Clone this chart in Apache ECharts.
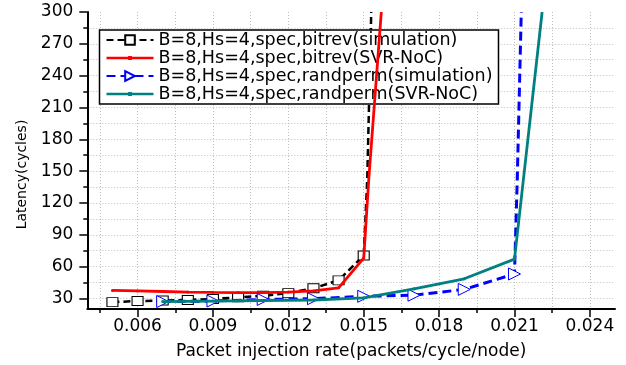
<!DOCTYPE html>
<html>
<head>
<meta charset="utf-8">
<script src="https://cdn.jsdelivr.net/npm/echarts@6/dist/echarts.min.js"></script>
<style>
html,body{margin:0;padding:0;background:#fff;}
#chart{width:626px;height:365px;}
</style>
</head>
<body>
<div id="chart"></div>
<script>
// ---- data ----
const xTicks = [0.006, 0.009, 0.012, 0.015, 0.018, 0.021, 0.024];
const xGrid = [0.0045, 0.006, 0.0075, 0.009, 0.0105, 0.012, 0.0135, 0.015, 0.0165, 0.018, 0.0195, 0.021, 0.0225, 0.024];
const yTicks = [30, 60, 90, 120, 150, 180, 210, 240, 270, 300];
const yGrid = [30, 45, 60, 75, 90, 105, 120, 135, 150, 165, 180, 195, 210, 225, 240, 255, 270, 285];

const seriesNames = [
  'B=8,Hs=4,spec,bitrev(simulation)',
  'B=8,Hs=4,spec,bitrev(SVR-NoC)',
  'B=8,Hs=4,spec,randperm(simulation)',
  'B=8,Hs=4,spec,randperm(SVR-NoC)'
];

// bitrev simulation (black dashed, squares); last 2 points are the off-scale rise (no marker)
const bitrevSimX = [0.005, 0.006, 0.007, 0.008, 0.009, 0.010, 0.011, 0.012, 0.013, 0.014, 0.015, 0.01514, 0.0153];
const bitrevSimY = [26.5, 27.5, 28, 28.5, 29.5, 31, 32.5, 35, 39.5, 47, 70.5, 142, 300];
const bitrevSimMarked = 11;

// bitrev SVR-NoC (red solid)
const bitrevSvrX = [0.005, 0.006, 0.007, 0.008, 0.009, 0.010, 0.011, 0.012, 0.013, 0.014, 0.015, 0.0152, 0.0157];
const bitrevSvrY = [37.5, 37, 36.5, 36, 35.7, 35.5, 35.5, 36, 37, 40, 68, 142, 300];
const bitrevSvrMarked = 11;

// randperm simulation (blue dashed, triangles)
const randSimX = [0.007, 0.009, 0.011, 0.013, 0.015, 0.017, 0.019, 0.021, 0.02111, 0.02127];
const randSimY = [27, 27.5, 29, 29.7, 32, 33, 38.5, 53, 142, 300];
const randSimMarked = 8;

// randperm SVR-NoC (teal solid)
const randSvrX = [0.007, 0.009, 0.011, 0.013, 0.015, 0.017, 0.019, 0.021, 0.0221];
const randSvrY = [27, 27.5, 28, 28.5, 30.5, 39, 48.5, 67, 300];
const randSvrMarked = 8;

function pts(xs, ys, marked) {
  return xs.map((x, i) => i < marked ? [x, ys[i]] : { value: [x, ys[i]], symbol: 'none' });
}

const FONT = 'DejaVu Sans';
const dotIcon = 'path://M0,5 L47,5 L47,7.6 L0,7.6 Z M21.6,4.3 L25.4,4.3 L25.4,8.3 L21.6,8.3 Z';

const chart = echarts.init(document.getElementById('chart'), null, { renderer: 'canvas' });
chart.setOption({
  animation: false,
  backgroundColor: '#fff',
  grid: { left: 87.3, right: 11, top: 12, bottom: 55.7, containLabel: false },
  legend: {
    orient: 'vertical',
    left: 99.5,
    top: 30,
    backgroundColor: '#fff',
    borderColor: '#000',
    borderWidth: 1.5,
    borderRadius: 0,
    padding: [1, 6, 1, 6],
    itemGap: 0,
    itemWidth: 47,
    itemHeight: 12,
    textStyle: { fontFamily: FONT, fontSize: 17.5, color: '#000', lineHeight: 17, padding: [0, 0, 0, 0] },
    data: [
      { name: seriesNames[0] },
      { name: seriesNames[1], icon: dotIcon },
      { name: seriesNames[2] },
      { name: seriesNames[3], icon: dotIcon }
    ]
  },
  xAxis: [
    {
      type: 'value', min: 0.004, max: 0.025, position: 'bottom',
      name: 'Packet injection rate(packets/cycle/node)',
      nameLocation: 'middle', nameGap: 34,
      nameTextStyle: { fontFamily: FONT, fontSize: 17, color: '#000' },
      axisLine: { show: true, onZero: false, lineStyle: { color: '#000', width: 2 } },
      axisTick: { show: true, inside: false, length: 8, customValues: xTicks, lineStyle: { color: '#000', width: 1.5 } },
      axisLabel: { show: true, customValues: xTicks, margin: 9, fontFamily: FONT, fontSize: 17, color: '#000' },
      splitLine: { show: false }
    },
    {
      type: 'value', min: 0.004, max: 0.025, position: 'bottom',
      axisLine: { show: false },
      axisTick: { show: true, inside: false, length: 4, customValues: xGrid, lineStyle: { color: '#000', width: 1.5 } },
      axisLabel: { show: false, customValues: xGrid },
      splitLine: { show: true, lineStyle: { color: '#bdbdbd', width: 1, type: [1, 2] } }
    }
  ],
  yAxis: [
    {
      type: 'value', min: 20, max: 300, position: 'left',
      name: 'Latency(cycles)',
      nameLocation: 'middle', nameGap: 58,
      nameTextStyle: { fontFamily: FONT, fontSize: 14, color: '#000', padding: [0, 28, 0, 0] },
      axisLine: { show: true, onZero: false, lineStyle: { color: '#000', width: 2 } },
      axisTick: { show: true, inside: false, length: 8, customValues: yTicks, lineStyle: { color: '#000', width: 1.5 } },
      axisLabel: { show: true, customValues: yTicks, margin: 14, fontFamily: FONT, fontSize: 17, color: '#000' },
      splitLine: { show: false }
    },
    {
      type: 'value', min: 20, max: 300, position: 'left',
      axisLine: { show: false },
      axisTick: { show: true, inside: false, length: 4, customValues: yGrid, lineStyle: { color: '#000', width: 1.5 } },
      axisLabel: { show: false, customValues: yGrid },
      splitLine: { show: true, lineStyle: { color: '#bdbdbd', width: 1, type: [1, 2] } }
    }
  ],
  series: [
    {
      name: seriesNames[0], type: 'line', xAxisIndex: 0, yAxisIndex: 0,
      data: pts(bitrevSimX, bitrevSimY, bitrevSimMarked),
      symbol: 'rect', symbolSize: [11, 9],
      lineStyle: { color: '#000', width: 2.5, type: [7, 4] },
      itemStyle: { color: '#fff', borderColor: '#000', borderWidth: 1 },
      z: 3
    },
    {
      name: seriesNames[1], type: 'line', xAxisIndex: 0, yAxisIndex: 0,
      data: pts(bitrevSvrX, bitrevSvrY, bitrevSvrMarked),
      symbol: 'circle', symbolSize: 3,
      lineStyle: { color: '#ff0000', width: 2.8 },
      itemStyle: { color: '#ff0000' },
      z: 4
    },
    {
      name: seriesNames[2], type: 'line', xAxisIndex: 0, yAxisIndex: 0,
      data: pts(randSimX, randSimY, randSimMarked),
      symbol: 'triangle', symbolSize: [12, 12], symbolRotate: -90,
      lineStyle: { color: '#0000ff', width: 3, type: [9, 5] },
      itemStyle: { color: '#fff', borderColor: '#0000ff', borderWidth: 1 },
      z: 5
    },
    {
      name: seriesNames[3], type: 'line', xAxisIndex: 0, yAxisIndex: 0,
      data: pts(randSvrX, randSvrY, randSvrMarked),
      symbol: 'circle', symbolSize: 3,
      lineStyle: { color: '#008080', width: 2.8 },
      itemStyle: { color: '#008080' },
      z: 6
    }
  ]
});
</script>
</body>
</html>
